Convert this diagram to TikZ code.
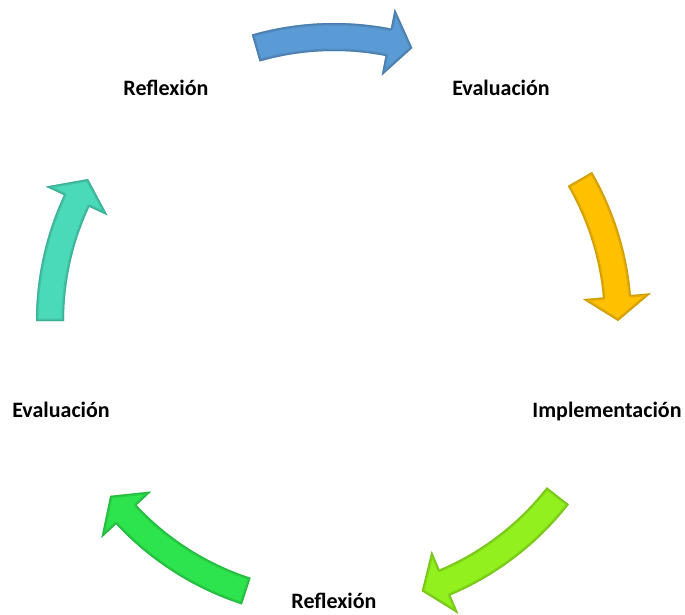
\documentclass[tikz,border=0pt]{standalone}
\usepackage{fontspec}
\setmainfont{Carlito}
\definecolor{azul}{RGB}{91,155,213}
\definecolor{oro}{RGB}{255,192,0}
\definecolor{lima}{RGB}{146,240,30}
\definecolor{verde}{RGB}{46,228,78}
\definecolor{turquesa}{RGB}{74,218,185}
\tikzset{etiqueta/.style={anchor=base, inner sep=0pt, font=\bfseries\fontsize{22}{26}\selectfont}}
% contorno de una flecha curva: cola \a, punta \b (grados)
\newcommand{\flechacurva}[2]{(#1:298) arc[start angle=#1, end angle=#2+5, radius=298]
    -- ({#2+5}:318) -- (#2:284) -- ({#2+5}:250) -- ({#2+5}:270)
    arc[start angle=#2+5, end angle=#1, radius=270] -- cycle}
\begin{document}
\begin{tikzpicture}[x=1pt, y=1pt]
    \useasboundingbox (0,0) rectangle (685,614);
    % etiquetas del ciclo
    \node[etiqueta] (refA) at (166,518) {Reflexión};
    \node[etiqueta] (evaA) at (501,518) {Evaluación};
    \node[etiqueta] (imp) at (607,197) {Implementación};
    \node[etiqueta] (refB) at (334,6) {Reflexión};
    \node[etiqueta] (evaB) at (61,197) {Evaluación};
    % flechas curvas con borde interior oscuro
    \begin{scope}[shift={(334,293)}]
        \foreach \a/\b/\col in {106/74/azul, 30/0/oro, -38/-72/lima, -108/-142/verde, 180/150/turquesa}{
            \fill[\col] \flechacurva{\a}{\b};
            \begin{scope}
                \clip \flechacurva{\a}{\b};
                \draw[\col!70!black, line width=5pt, opacity=.35, line join=round] \flechacurva{\a}{\b};
                \draw[\col!75!black, line width=2pt, opacity=.6, line join=round] \flechacurva{\a}{\b};
            \end{scope}
        }
    \end{scope}
\end{tikzpicture}
\end{document}
